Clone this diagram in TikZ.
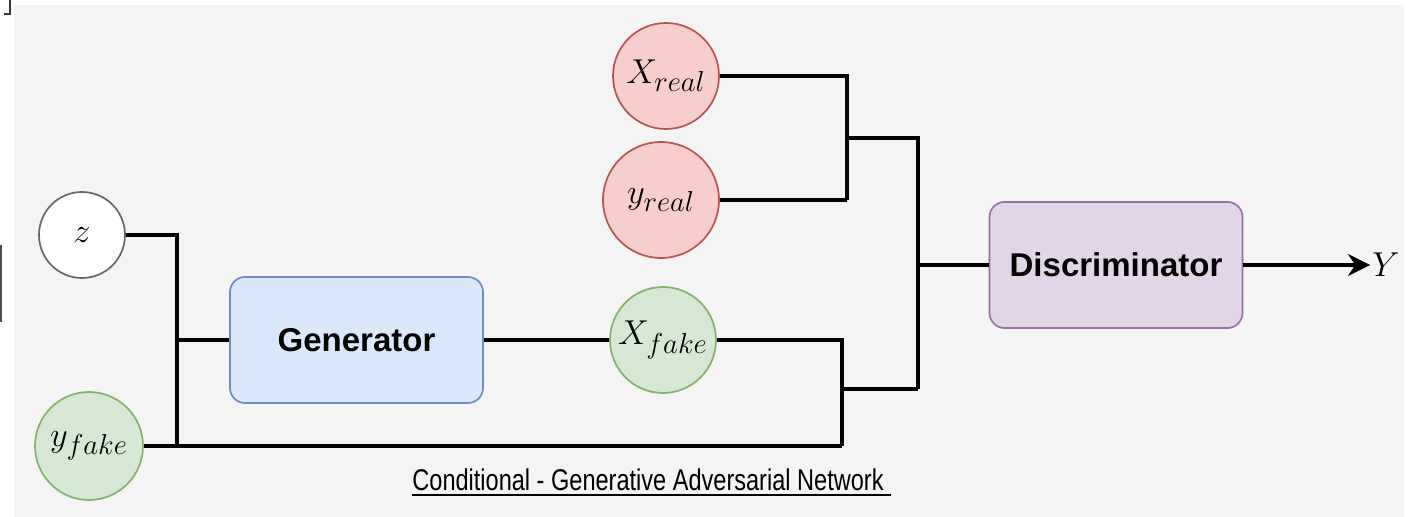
\documentclass[tikz,border=0pt]{standalone}
\usepackage{fontspec}
\setsansfont{Liberation Sans}
\newfontfamily\capfont[FakeStretch=0.785]{Liberation Sans}
\usetikzlibrary{arrows.meta}
\definecolor{bg}{HTML}{F4F4F4}
\definecolor{redfill}{HTML}{F8CECC}
\definecolor{redline}{HTML}{B85450}
\definecolor{greenfill}{HTML}{D5E8D4}
\definecolor{greenline}{HTML}{82B366}
\definecolor{bluefill}{HTML}{DAE8FC}
\definecolor{blueline}{HTML}{6C8EBF}
\definecolor{purplefill}{HTML}{E1D5E7}
\definecolor{purpleline}{HTML}{9673A6}
\definecolor{greyline}{HTML}{666666}
\begin{document}
\begin{tikzpicture}[x=0.5pt,y=-0.5pt,
  circ/.style={circle,draw,line width=0.85pt,inner sep=0pt,font=\fontsize{19}{19}\selectfont},
  realc/.style={circ,fill=redfill,draw=redline},
  fakec/.style={circ,fill=greenfill,draw=greenline},
  blk/.style={rectangle,rounded corners=7.5pt,line width=0.85pt,minimum width=126.5pt,minimum height=63pt,font=\sffamily\bfseries\fontsize{16.5}{16.5}\selectfont},
  wire/.style={line width=1.7pt,black},
  arr/.style={wire,-{Stealth[length=11pt,width=11pt]}}
]
\useasboundingbox (0,0) rectangle (1406,517);
\fill[white] (0,0) rectangle (1406,517);
\fill[bg] (14,5) rectangle (1404,517);
% screenshot artifacts
\draw[line width=1pt,black!80] (4,14) -- (10,14) -- (10,0);
\draw[line width=1.2pt,black!70] (1,245) -- (1,322);

% nodes
\node[circ,fill=white,draw=greyline,minimum size=43pt] (z) at (82,235) {$z$};
\node[fakec,minimum size=54pt] (yfake) at (89,446) {$y_{fake}$};
\node[blk,fill=bluefill,draw=blueline] (gen) at (356.5,340) {Generator};
\node[fakec,minimum size=53pt] (xfake) at (663,340) {$X_{fake}$};
\node[realc,minimum size=53pt] (xreal) at (666,76) {$X_{real}$};
\node[realc,minimum size=58pt] (yreal) at (661,200) {$y_{real}$};
\node[blk,fill=purplefill,draw=purpleline] (disc) at (1116,265) {Discriminator};
\node[inner sep=1pt,font=\fontsize{18}{18}\selectfont] (Y) at (1386,265) {$Y$};

% junctions
\coordinate (jg) at (177,340);
\coordinate (jgb) at (177,446);
\coordinate (jf) at (842,389);
\coordinate (jfb) at (842,446);
\coordinate (jr) at (847,138);
\coordinate (jrb) at (847,200);
\coordinate (jd) at (918,138);
\coordinate (jdb) at (918,389);
\coordinate (jdm) at (918,265);

% connectors
\draw[wire] (z.east) -| (jgb);
\draw[wire] (jg) -- (gen.west);
\draw[wire] (yfake.east) -- (jfb);
\draw[wire] (gen.east) -- (xfake.west);
\draw[wire] (xfake.east) -| (jfb);
\draw[wire] (jf) -- (jdb);
\draw[wire] (xreal.east) -| (jrb);
\draw[wire] (yreal.east) -- (jrb);
\draw[wire] (jr) -- (jd) -- (jdb);
\draw[wire] (jdm) -- (disc.west);
\draw[arr] (disc.east) -- (Y.west);

% caption
\node[inner sep=0pt,anchor=base west,font=\capfont\fontsize{15}{15}\selectfont] (cap) at (412,490) {Conditional - Generative Adversarial Network};
\draw[line width=1pt] ([yshift=-2.5pt]cap.base west) -- ([xshift=3.5pt,yshift=-2.5pt]cap.base east);
\end{tikzpicture}
\end{document}
